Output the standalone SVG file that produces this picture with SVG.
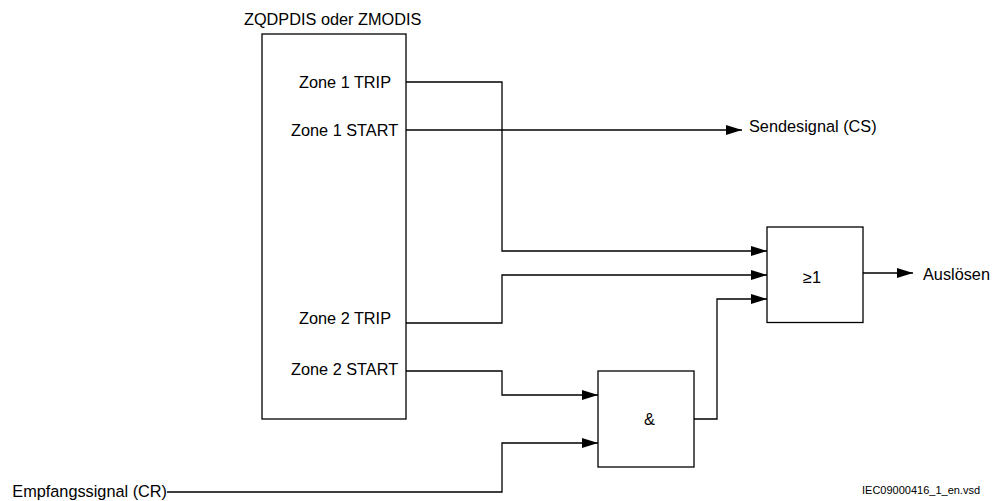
<svg xmlns="http://www.w3.org/2000/svg" width="1006" height="501" viewBox="0 0 1006 501">
<style>
text{font-family:"Liberation Sans",Arial,sans-serif;font-size:16.3px;fill:#000}
.box{fill:#fff;stroke:#000;stroke-width:1.3}
.wire{fill:none;stroke:#000;stroke-width:1.3}
.small{font-size:11px}
</style>
<defs>
<marker id="arr" markerUnits="userSpaceOnUse" markerWidth="16" markerHeight="10" refX="16" refY="5" orient="auto">
<path d="M0,0 L16,5 L0,10 z" fill="#000"/>
</marker>
</defs>
<rect width="1006" height="501" fill="#fff"/>
<g id="dist">
<rect class="box" x="262" y="34" width="144" height="385"/>
<text x="244" y="24.5">ZQDPDIS oder ZMODIS</text>
<text x="299" y="88">Zone 1 TRIP</text>
<text x="291" y="135.5">Zone 1 START</text>
<text x="299" y="323.5">Zone 2 TRIP</text>
<text x="291" y="374.5">Zone 2 START</text>
</g>
<g id="or">
<rect class="box" x="767" y="227" width="96" height="95.5"/>
<text x="803" y="283">≥1</text>
</g>
<g id="and">
<rect class="box" x="598" y="371" width="96" height="96"/>
<text x="649.5" y="424.5" text-anchor="middle">&amp;</text>
</g>
<g id="sendesignal"><text x="749" y="132">Sendesignal (CS)</text></g>
<g id="ausloesen"><text x="923" y="280">Auslösen</text></g>
<g id="empfangssignal"><text x="12.3" y="496.5">Empfangssignal (CR)</text></g>
<g id="connectors">
<path class="wire" d="M406,82 H502 V251 H767" marker-end="url(#arr)"/>
<path class="wire" d="M406,130 H742" marker-end="url(#arr)"/>
<path class="wire" d="M406,323 H502 V275 H767" marker-end="url(#arr)"/>
<path class="wire" d="M694,419 H717 V299 H767" marker-end="url(#arr)"/>
<path class="wire" d="M406,371 H502 V395 H598" marker-end="url(#arr)"/>
<path class="wire" d="M167,492 H502 V443 H598" marker-end="url(#arr)"/>
<path class="wire" d="M863,273 H913" marker-end="url(#arr)"/>
</g>
<text class="small" x="862" y="494">IEC09000416_1_en.vsd</text>
</svg>
